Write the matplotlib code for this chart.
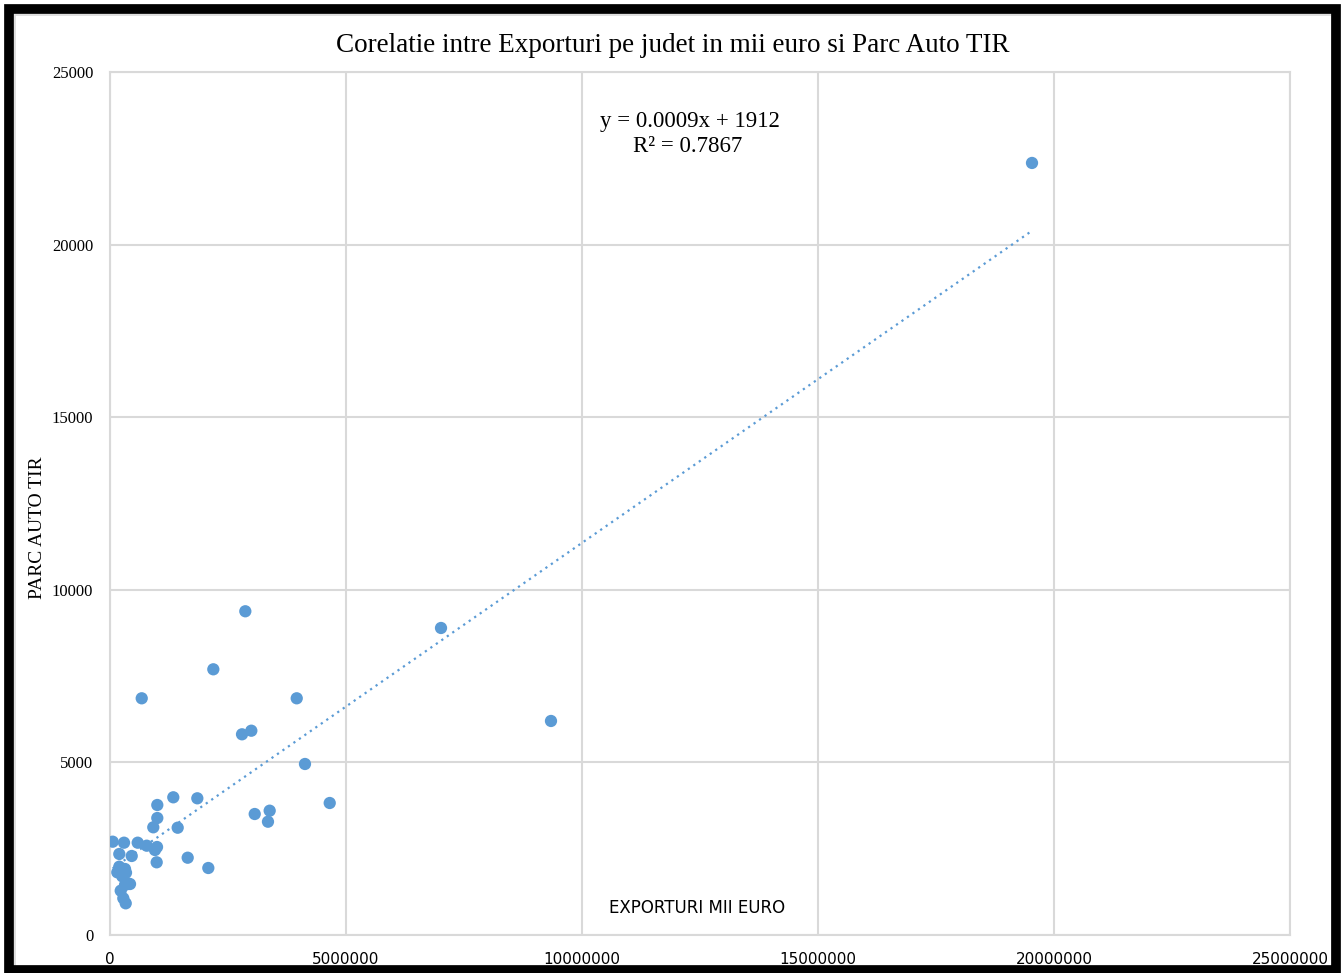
import matplotlib
matplotlib.use("Agg")
import matplotlib.pyplot as plt
from matplotlib.patches import Rectangle
import numpy as np

# exporturi pe judet (mii euro) si parc auto TIR
exporturi = [
    57000, 297000, 587000, 778000, 953000, 996000, 197000, 460000, 989000, 1646000,
    2083000, 197000, 318000, 155000, 339000, 424000, 318000, 227000, 282000, 333000,
    1002000, 1341000, 1850000, 1002000, 917000, 1434000, 3066000, 3383000, 3347000, 4655000,
    2867000, 2189000, 672000, 3956000, 2797000, 2994000, 4131000, 7013000, 9343000, 19534000,
    260000, 370000,
]
parc_tir = [
    2703, 2674, 2674, 2587, 2462, 2549, 2347, 2289, 2106, 2239,
    1941, 1979, 1912, 1816, 1805, 1477, 1449, 1283, 1063, 918,
    3766, 3989, 3960, 3389, 3120, 3108, 3505, 3601, 3282, 3824,
    9378, 7697, 6857, 6857, 5814, 5918, 4954, 8894, 6200, 22365,
    1700, 1500,
]
x_ticks = [0, 5000000, 10000000, 15000000, 20000000, 25000000]
y_ticks = [0, 5000, 10000, 15000, 20000, 25000]

blue = "#5B9BD5"
grid_c = "#D9D9D9"
serif = "Liberation Serif"
narrow = ["Liberation Sans Narrow", "DejaVu Sans"]

fig = plt.figure(figsize=(13.41, 9.73), dpi=100)
W, H = 1341, 973
ax = fig.add_axes([110 / W, 1 - 935 / H, (1290 - 110) / W, (935 - 72) / H])

x = np.array(exporturi, dtype=float)
y = np.array(parc_tir, dtype=float)
slope, intercept = np.polyfit(x, y, 1)
xs = np.array([x.min(), x.max()])
ax.plot(xs, slope * xs + intercept, linestyle=(0, (1, 2)), color=blue, lw=1.6, zorder=2)
ax.scatter(x, y, s=78, color=blue, edgecolors="none", zorder=3)

ax.set_xlim(0, 25000000)
ax.set_ylim(0, 25000)
ax.set_xticks(x_ticks)
ax.set_yticks(y_ticks)
ax.set_xticklabels([str(v) for v in x_ticks], family=narrow, fontsize=11)
ax.set_yticklabels([str(v) for v in y_ticks], family=serif, fontsize=12)
ax.tick_params(axis="y", length=0, pad=12)
ax.tick_params(axis="x", length=0, pad=12)
ax.grid(True, color=grid_c, lw=1.5)
ax.set_axisbelow(True)
for sp in ax.spines.values():
    sp.set_color(grid_c)
    sp.set_linewidth(1.5)

fig.text(697 / W, 1 - 908 / H, "EXPORTURI MII EURO", ha="center", va="center",
         family=narrow, fontsize=12)
fig.text(37 / W, 1 - 528 / H, "PARC AUTO TIR", rotation=90, ha="center", va="center",
         family=serif, fontsize=14)
fig.text(673 / W, 1 - 46 / H, "Corelatie intre Exporturi pe judet in mii euro si Parc Auto TIR",
         ha="center", va="center", family=serif, fontsize=19.5)
fig.text(690 / W, 1 - 121 / H, "y = 0.0009x + 1912", ha="center", va="center",
         family=serif, fontsize=16.5)
fig.text(688 / W, 1 - 147 / H, "R² = 0.7867", ha="center", va="center",
         family=serif, fontsize=16.5)

# cadru gri + chenar negru
fig.patches.append(Rectangle((15 / W, 1 - 968 / H), (1332 - 15) / W, (968 - 15) / H,
                             transform=fig.transFigure, fill=False, ec=grid_c, lw=1.2))
fig.patches.append(Rectangle((9 / W, 1 - 970 / H), (1336 - 9) / W, (970 - 9) / H,
                             transform=fig.transFigure, fill=False, ec="black", lw=7))

fig.savefig("out.png", dpi=100)
